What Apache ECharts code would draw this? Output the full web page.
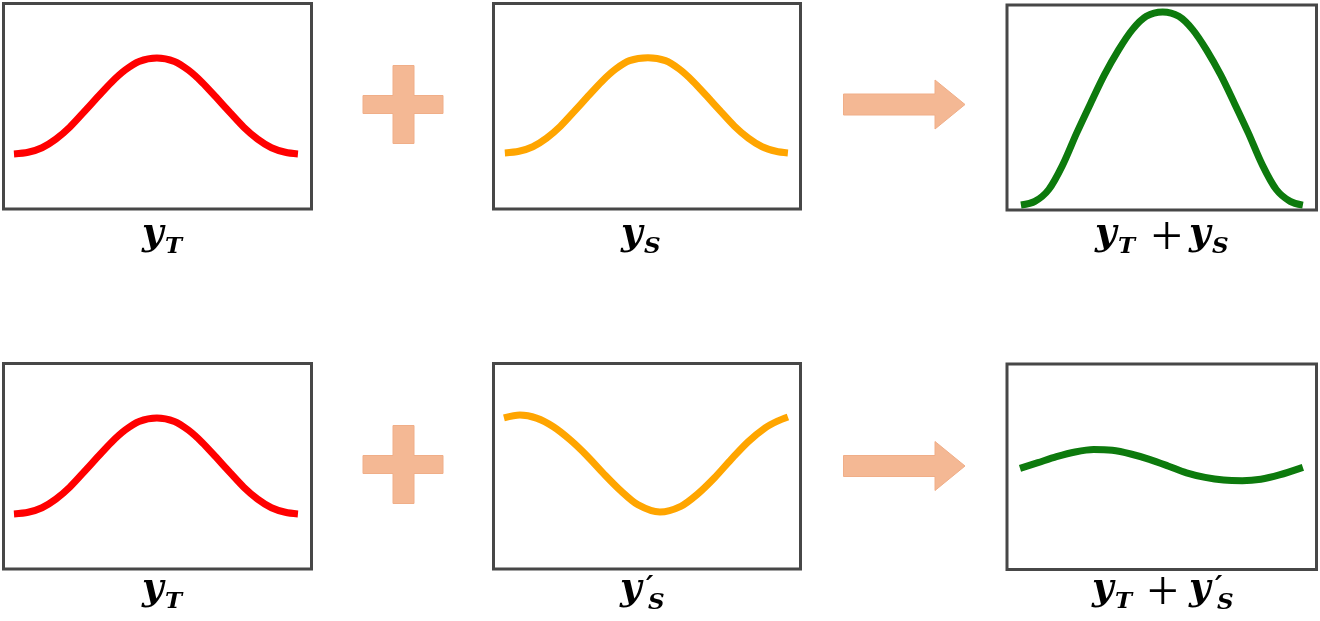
<!DOCTYPE html>
<html>
<head>
<meta charset="utf-8">
<script src="https://cdn.jsdelivr.net/npm/echarts@6/dist/echarts.min.js"></script>
<style>
html,body{margin:0;padding:0;background:#fff;}
#chart{width:1320px;height:621px;}
</style>
</head>
<body>
<div id="chart"></div>
<script>
// ---- Data (x and y in percent of each panel's box) ----
var redX    = [3.4, 8.0, 12.5, 17.0, 21.5, 26.0, 30.5, 35.0, 39.5, 44.0, 49.8, 55.5, 60.0, 64.5, 69.0, 73.5, 78.0, 82.5, 87.0, 91.5, 95.6];
var redY    = [26.8, 27.6, 29.8, 34.0, 39.8, 47.0, 54.4, 61.6, 67.6, 71.8, 73.5, 71.8, 67.6, 61.6, 54.4, 47.0, 39.8, 34.0, 29.8, 27.6, 26.8];

var orangeX = [3.7, 8.3, 12.8, 17.3, 21.8, 26.3, 30.8, 35.3, 39.8, 44.3, 50.3, 56.0, 60.5, 65.0, 69.5, 74.0, 78.5, 83.0, 87.5, 92.0, 95.9];
var orangeY = [27.3, 28.1, 30.3, 34.5, 40.3, 47.5, 54.9, 62.1, 68.1, 72.2, 73.6, 72.2, 68.1, 62.1, 54.9, 47.5, 40.3, 34.5, 30.3, 28.1, 27.3];

var greenX  = [4.5, 9.0, 13.5, 18.0, 22.5, 27.0, 31.5, 36.0, 40.5, 45.0, 50.3, 55.5, 60.0, 64.5, 69.0, 73.5, 78.0, 82.5, 87.0, 91.5, 95.6];
var greenY  = [2.4, 4.2, 10.0, 22.0, 37.5, 52.0, 66.0, 78.0, 88.0, 94.5, 96.6, 94.5, 88.0, 78.0, 66.0, 52.0, 37.5, 22.0, 10.0, 4.2, 2.4];

var orange2X = [3.4, 8.6, 14.0, 19.5, 25.0, 30.5, 36.0, 41.5, 47.0, 54.2, 61.0, 66.5, 72.0, 77.5, 83.0, 88.5, 92.5, 95.9];
var orange2Y = [73.5, 74.9, 73.4, 69.2, 62.8, 55.0, 46.2, 38.0, 31.3, 27.7, 30.5, 36.5, 44.4, 53.5, 62.0, 68.7, 72.0, 74.0];

var green2X = [4.2, 10.0, 16.0, 22.0, 28.0, 34.0, 40.0, 46.0, 52.0, 58.0, 64.0, 70.0, 76.0, 82.0, 88.0, 95.6];
var green2Y = [49.2, 52.0, 54.9, 57.2, 58.4, 58.0, 56.2, 53.6, 50.4, 47.0, 44.8, 43.5, 43.2, 43.9, 46.0, 49.7];

// ---- Layout ----
var boxes = [
  {left: 3.5,  top: 3.5,   width: 308,   height: 205.5},
  {left: 493.5,top: 3.5,   width: 307,   height: 205.5},
  {left: 1007, top: 5,     width: 309.5, height: 205},
  {left: 3.5,  top: 363.5, width: 308,   height: 205.5},
  {left: 493.5,top: 363.5, width: 307,   height: 205.5},
  {left: 1007, top: 364,   width: 309.5, height: 205.5}
];
var panelSeries = [
  {x: redX, y: redY, color: '#ff0000'},
  {x: orangeX, y: orangeY, color: '#ffa500'},
  {x: greenX, y: greenY, color: '#0d7a0d'},
  {x: redX, y: redY, color: '#ff0000'},
  {x: orange2X, y: orange2Y, color: '#ffa500'},
  {x: green2X, y: green2Y, color: '#0d7a0d'}
];

function zip(xs, ys){ return xs.map(function(v,i){ return [v, ys[i]]; }); }

var grids = [], xAxes = [], yAxes = [], series = [];
boxes.forEach(function(b, i){
  grids.push({left: b.left, top: b.top, width: b.width, height: b.height,
    show: true, borderColor: '#474747', borderWidth: 3, backgroundColor: '#fff', containLabel: false});
  xAxes.push({type: 'value', gridIndex: i, min: 0, max: 100, show: false});
  yAxes.push({type: 'value', gridIndex: i, min: 0, max: 100, show: false});
  var p = panelSeries[i];
  series.push({type: 'line', xAxisIndex: i, yAxisIndex: i, data: zip(p.x, p.y),
    smooth: 0.3, symbol: 'none', lineStyle: {color: p.color, width: 7, cap: 'butt'},
    silent: true, z: 3});
});

// ---- Decorations: plus signs and arrows ----
var decoFill = '#f4b894', decoStroke = '#f0ae88';
function plusShape(cy){
  var d = cy - 104.5;
  return {type: 'polygon', silent: true, shape: {points: [
    [393,65.5+d],[414,65.5+d],[414,95.5+d],[443,95.5+d],[443,113.5+d],[414,113.5+d],
    [414,143.5+d],[393,143.5+d],[393,113.5+d],[363,113.5+d],[363,95.5+d],[393,95.5+d]]},
    style: {fill: decoFill, stroke: decoStroke, lineWidth: 1}};
}
function arrowShape(cy){
  var d = cy - 104.5;
  return {type: 'polygon', silent: true, shape: {points: [
    [843.5,94+d],[935,94+d],[935,80+d],[965,104.5+d],[935,129+d],[935,115+d],[843.5,115+d]]},
    style: {fill: decoFill, stroke: decoStroke, lineWidth: 1}};
}

// ---- Labels ----
var SERIF = '"DejaVu Serif", "Liberation Serif", serif';
function piece(text, x, baseline, size, opts){
  opts = opts || {};
  var family = opts.family || SERIF;
  var k = opts.k || 0.346;
  return {type: 'text', silent: true, style: {
    text: text, x: x, y: baseline - k * size,
    font: (opts.plain ? '' : 'italic bold ') + size + 'px ' + family,
    fill: '#000', textAlign: 'left', textVerticalAlign: 'middle'}};
}
var BIG = 37, SUB = 23, PRIME = 28, PLUS = 56;
function plusText(x, baseline){
  return piece('+', x, baseline, PLUS, {plain: true, family: '"Liberation Serif", serif', k: 0.337});
}
var labels = [
  piece('y', 142, 247, BIG), piece('T', 165, 255, SUB),
  piece('y', 621, 247, BIG), piece('S', 644, 255, SUB),
  piece('y', 1095, 247, BIG), piece('T', 1118, 255, SUB),
  plusText(1151, 259),
  piece('y', 1189, 247, BIG), piece('S', 1212, 255, SUB),

  piece('y', 142, 602, BIG), piece('T', 165, 610, SUB),
  piece('y', 620, 602, BIG), piece('\u2032', 646, 598, PRIME), piece('S', 648, 611, SUB),
  piece('y', 1092, 602, BIG), piece('T', 1115, 610, SUB),
  plusText(1147, 614),
  piece('y', 1189, 602, BIG), piece('\u2032', 1215, 598, PRIME), piece('S', 1217, 611, SUB)
];

var graphics = [plusShape(104.5), plusShape(464.5), arrowShape(104.5), arrowShape(466)].concat(labels);

var chart = echarts.init(document.getElementById('chart'), null, {renderer: 'canvas'});
chart.setOption({
  animation: false,
  backgroundColor: '#fff',
  grid: grids,
  xAxis: xAxes,
  yAxis: yAxes,
  series: series,
  graphic: graphics
});
</script>
</body>
</html>
